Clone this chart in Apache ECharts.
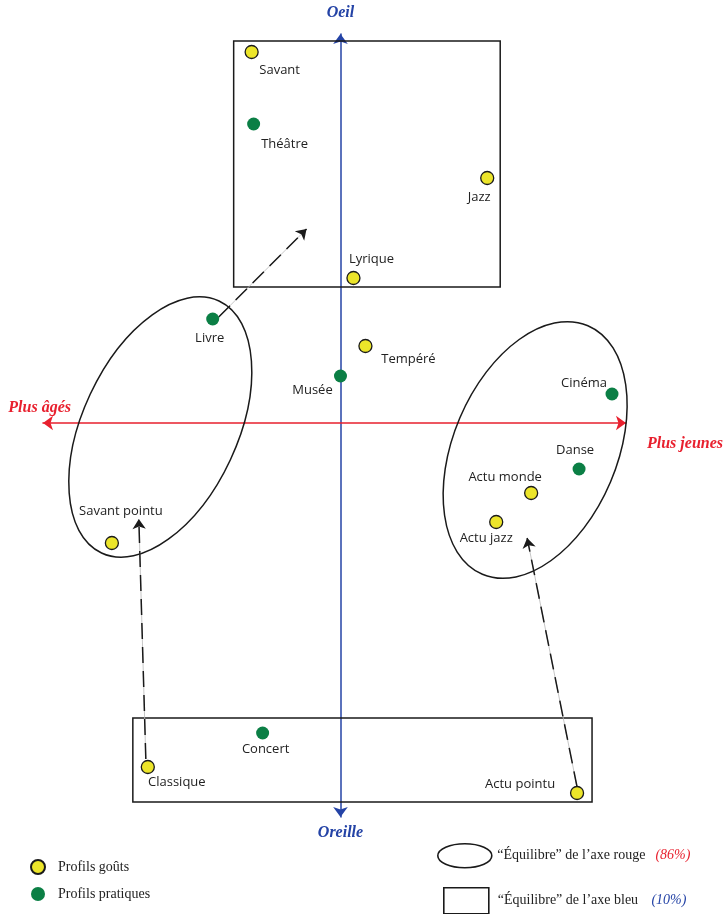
<!DOCTYPE html>
<html>
<head>
<meta charset="utf-8">
<title>Oeil / Oreille</title>
<script src="https://cdn.jsdelivr.net/npm/echarts@6/dist/echarts.min.js"></script>
<style>
    html, body { margin: 0; padding: 0; background: #fff; }
    #chart { width: 726px; height: 914px; }
</style>
</head>
<body>
<div id="chart"></div>
<script>
'use strict';

/* ======== données ======== */
// Profils goûts (points jaunes)
var goutNames = ['Savant', 'Jazz', 'Lyrique', 'Tempéré', 'Actu monde', 'Actu jazz', 'Savant pointu', 'Classique', 'Actu pointu'];
var goutX = [-0.89, 1.47, 0.13, 0.25, 1.91, 1.56, -2.29, -1.93, 2.37];
var goutY = [3.71, 2.45, 1.45, 0.77, -0.70, -0.99, -1.20, -3.44, -3.70];

// Profils pratiques (points verts)
var pratNames = ['Théâtre', 'Livre', 'Musée', 'Cinéma', 'Danse', 'Concert'];
var pratX = [-0.87, -1.28, 0.00, 2.72, 2.39, -0.78];
var pratY = [2.99, 1.04, 0.47, 0.29, -0.46, -3.10];

// "Équilibre" de l'axe rouge : centre x, centre y, demi grand axe, demi petit axe, inclinaison (deg)
var ellipses = [
    [-1.805, -0.04, 1.39, 0.775, 25],
    [1.95, -0.27, 1.35, 0.82, 23]
];
// "Équilibre" de l'axe bleu : x1, y1, x2, y2
var rects = [
    [-1.07, 3.82, 1.60, 1.36],
    [-2.08, -2.95, 2.52, -3.79]
];
// flèches : départ -> arrivée
var arrowFrom = [[-1.22, 1.06], [-1.95, -3.36], [2.37, -3.64]];
var arrowTo = [[-0.34, 1.94], [-2.02, -0.96], [1.87, -1.15]];

// légendes
var legendGout = 'Profils goûts';
var legendPrat = 'Profils pratiques';
var legendRouge = '“Équilibre” de l’axe rouge';
var legendBleu = '“Équilibre” de l’axe bleu';
var shareRouge = '(86%)';
var shareBleu = '(10%)';

// axes
var axisRight = 'Plus jeunes', axisLeft = 'Plus âgés';
var axisTop = 'Oeil', axisBottom = 'Oreille';

/* ======== styles ======== */
// décalage des étiquettes par rapport au point (px)
var goutLabelOffset = [[28, 18], [-8, 19], [18, -19], [43, 13], [-26, -16], [-10, 16], [9, -32], [29, 15], [-57, -9]];
var pratLabelOffset = [[31, 20], [-3, 19], [-28, 14], [-28, -11], [-4, -19], [3, 16]];

var RED = '#e8202e';
var BLUE = '#2443a6';
var YELLOW = '#ece52a';
var GREEN = '#0b7f45';
var INK = '#1a1a1a';
var SANS = '"Open Sans", sans-serif';
var SERIF = '"Liberation Serif", "Times New Roman", serif';

function buildPoints(names, xs, ys, offsets) {
    return names.map(function (n, i) {
        return {
            name: n,
            value: [xs[i], ys[i]],
            label: { offset: offsets[i] }
        };
    });
}

function renderEllipse(params, api) {
    var c = api.coord([api.value(0), api.value(1)]);
    var s = api.size([api.value(3), api.value(2)]);
    return {
        type: 'ellipse',
        x: c[0],
        y: c[1],
        rotation: -api.value(4) * Math.PI / 180,
        shape: { cx: 0, cy: 0, rx: s[0], ry: s[1] },
        style: { fill: null, stroke: INK, lineWidth: 1.5 }
    };
}

function renderRect(params, api) {
    var p1 = api.coord([api.value(0), api.value(1)]);
    var p2 = api.coord([api.value(2), api.value(3)]);
    return {
        type: 'rect',
        shape: {
            x: Math.min(p1[0], p2[0]),
            y: Math.min(p1[1], p2[1]),
            width: Math.abs(p2[0] - p1[0]),
            height: Math.abs(p2[1] - p1[1])
        },
        style: { fill: null, stroke: INK, lineWidth: 1.5 }
    };
}

var arrowData = arrowFrom.map(function (f, i) {
    return { coords: [f, arrowTo[i]] };
});

var chart = echarts.init(document.getElementById('chart'));

var hidden = { show: false };
var axisNameStyle = function (color, extra) {
    var s = { fontFamily: SERIF, fontSize: 16, fontWeight: 'bold', fontStyle: 'italic', color: color };
    for (var k in extra) { s[k] = extra[k]; }
    return s;
};

var option = {
    animation: false,
    backgroundColor: '#fff',
    grid: { left: 43, right: 99, top: 34, bottom: 97 },
    xAxis: [
        {
            type: 'value', min: -2.98, max: 2.86,
            axisLine: {
                onZero: true, symbol: ['arrow', 'arrow'], symbolSize: [11, 10],
                lineStyle: { color: RED, width: 1.6 }
            },
            axisTick: hidden, axisLabel: hidden, splitLine: hidden,
            name: axisRight, nameLocation: 'end', nameGap: 21,
            nameTextStyle: axisNameStyle(RED, { verticalAlign: 'top', padding: [13, 0, 0, 0] })
        },
        {
            type: 'value', min: -2.98, max: 2.86, position: 'bottom',
            axisLine: { show: false, onZero: true },
            axisTick: hidden, axisLabel: hidden, splitLine: hidden,
            name: axisLeft, nameLocation: 'start', nameGap: -28,
            nameTextStyle: axisNameStyle(RED, { verticalAlign: 'bottom', padding: [0, 0, 7, 0] })
        }
    ],
    yAxis: [
        {
            type: 'value', min: -3.94, max: 3.89,
            axisLine: {
                onZero: true, symbol: ['arrow', 'arrow'], symbolSize: [11, 10],
                lineStyle: { color: BLUE, width: 1.5 }
            },
            axisTick: hidden, axisLabel: hidden, splitLine: hidden,
            name: axisTop, nameLocation: 'end', nameGap: 13,
            nameTextStyle: axisNameStyle(BLUE, {})
        },
        {
            type: 'value', min: -3.94, max: 3.89, position: 'left',
            axisLine: { show: false, onZero: true },
            axisTick: hidden, axisLabel: hidden, splitLine: hidden,
            name: axisBottom, nameLocation: 'start', nameGap: 8,
            nameTextStyle: axisNameStyle(BLUE, {})
        }
    ],
    legend: [
        {
            data: [legendGout, legendPrat],
            orient: 'vertical', left: 30, top: 859, padding: 0,
            itemWidth: 14, itemHeight: 14, itemGap: 12, icon: 'circle',
            selectedMode: false,
            textStyle: { fontFamily: SERIF, fontSize: 14, lineHeight: 14, color: '#222', padding: [0, 0, 0, 8] }
        },
        {
            data: [legendRouge],
            left: 437, top: 843, padding: 0,
            itemWidth: 55, itemHeight: 24,
            icon: 'path://M0,12A27,12,0,1,1,54,12A27,12,0,1,1,0,12Z',
            itemStyle: { color: 'rgba(0,0,0,0)', borderColor: INK, borderWidth: 1.6 },
            selectedMode: false,
            formatter: function (name) { return '{t|' + name + '}   {p|' + shareRouge + '}'; },
            textStyle: {
                rich: {
                    t: { fontFamily: SERIF, fontSize: 14, color: '#222' },
                    p: { fontFamily: SERIF, fontSize: 14, fontStyle: 'italic', color: RED }
                }
            }
        },
        {
            data: [legendBleu],
            left: 443, top: 887, padding: 0,
            itemWidth: 45, itemHeight: 26, icon: 'rect',
            itemStyle: { color: 'rgba(0,0,0,0)', borderColor: INK, borderWidth: 1.6 },
            selectedMode: false,
            formatter: function (name) { return '{t|' + name + '}    {p|' + shareBleu + '}'; },
            textStyle: {
                padding: [0, 0, 0, 4],
                rich: {
                    t: { fontFamily: SERIF, fontSize: 14, color: '#222' },
                    p: { fontFamily: SERIF, fontSize: 14, fontStyle: 'italic', color: BLUE }
                }
            }
        }
    ],
    series: [
        {
            name: legendRouge,
            type: 'custom',
            renderItem: renderEllipse,
            data: ellipses,
            encode: { x: 0, y: 1 },
            silent: true,
            z: 1
        },
        {
            name: legendBleu,
            type: 'custom',
            renderItem: renderRect,
            data: rects,
            encode: { x: [0, 2], y: [1, 3] },
            silent: true,
            z: 1
        },
        // fil gris sous les flèches
        {
            type: 'lines',
            coordinateSystem: 'cartesian2d',
            data: arrowData,
            symbol: ['none', 'none'],
            lineStyle: { color: '#b8b8b8', width: 0.8, opacity: 1, type: 'solid' },
            silent: true,
            z: 2
        },
        {
            type: 'lines',
            coordinateSystem: 'cartesian2d',
            data: arrowData,
            symbol: ['none', 'arrow'],
            symbolSize: 10,
            lineStyle: { color: INK, width: 1.5, opacity: 1, type: [16, 8] },
            silent: true,
            z: 3
        },
        {
            name: legendGout,
            type: 'scatter',
            symbolSize: 13,
            itemStyle: { color: YELLOW, borderColor: INK, borderWidth: 1.3, opacity: 1 },
            label: {
                show: true, position: 'inside', formatter: '{b}',
                fontFamily: SANS, fontSize: 13, color: '#222'
            },
            data: buildPoints(goutNames, goutX, goutY, goutLabelOffset),
            z: 5
        },
        {
            name: legendPrat,
            type: 'scatter',
            symbolSize: 13,
            itemStyle: { color: GREEN, opacity: 1 },
            label: {
                show: true, position: 'inside', formatter: '{b}',
                fontFamily: SANS, fontSize: 13, color: '#222'
            },
            data: buildPoints(pratNames, pratX, pratY, pratLabelOffset),
            z: 5
        }
    ]
};

chart.setOption(option);
</script>
</body>
</html>
